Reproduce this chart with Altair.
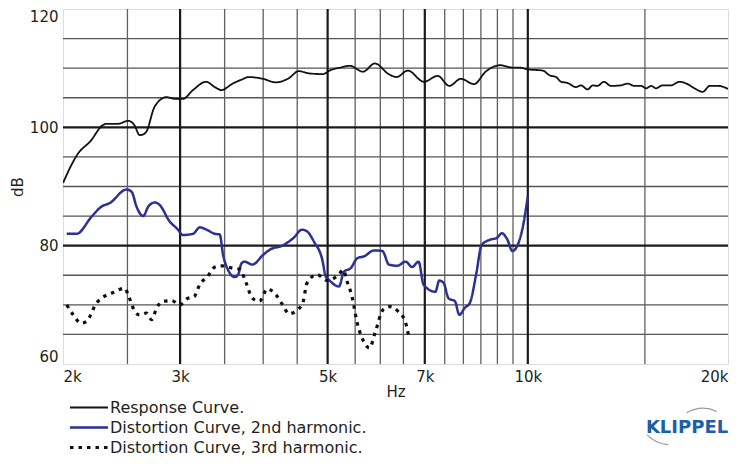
import altair as alt
import pandas as pd

# ---- data ----
resp_f = [2000, 2108, 2197, 2298, 2326, 2420, 2506, 2560, 2608, 2640, 2670, 2747, 2861, 2950, 3029,
          3137, 3282, 3384, 3461, 3600, 3700, 3810, 3996, 4180, 4370, 4524, 4700, 4920, 5055, 5225,
          5400, 5650, 5890, 6175, 6350, 6600, 6978, 7320, 7620, 7930, 8300, 8640, 9090, 9480, 9700,
          10000, 10530, 10780, 11030, 11220, 11480, 11810, 12020, 12300, 12520, 12720, 13020, 13330,
          13800, 14130, 14460, 14800, 15060, 15330, 15590, 15950, 16420, 16900, 17390, 17800, 18330,
          18770, 19350, 20000]
resp_db = [90.6, 95.6, 97.6, 100.4, 100.6, 100.6, 101.1, 100.4, 98.7, 98.8, 99.3, 103.5, 105.1, 104.8, 104.8,
           106.3, 107.7, 106.8, 106.3, 107.4, 108.0, 108.5, 108.2, 107.6, 108.3, 109.5, 109.1, 109.0, 109.7, 110.1,
           110.4, 109.4, 110.8, 109.0, 108.5, 109.6, 107.7, 108.7, 107.0, 108.2, 107.3, 109.4, 110.5, 110.1, 110.1,
           109.8, 109.6, 108.8, 108.5, 107.7, 107.5, 106.8, 107.1, 106.4, 107.1, 107.0, 107.7, 107.0,
           107.1, 107.4, 107.0, 107.0, 106.6, 107.0, 106.6, 107.1, 107.1, 107.7, 107.3, 106.6, 106.0,
           107.0, 107.0, 106.5]

h2_f = [2026, 2096, 2208, 2285, 2352, 2492, 2537, 2580, 2640, 2687, 2748, 2794, 2893, 2973, 3028,
        3137, 3212, 3288, 3384, 3441, 3482, 3542, 3626, 3668, 3710, 3750, 3854, 3996, 4091, 4290,
        4442, 4577, 4658, 4767, 4909, 4967, 5024, 5200, 5290, 5416, 5544, 5674, 5873, 6043, 6183,
        6364, 6548, 6700, 6852, 6970, 7260, 7360, 7470, 7600, 7770, 7890, 8040, 8180, 8370, 8520,
        8770, 8980, 9140, 9310, 9480, 9600, 9830, 10000]
h2_db = [82.0, 82.0, 84.9, 86.6, 87.2, 89.5, 89.1, 86.6, 85.0, 86.6, 87.3, 86.9, 84.1, 82.8, 81.8,
         82.0, 83.1, 82.7, 82.0, 81.9, 78.4, 75.9, 74.7, 75.1, 77.0, 77.3, 76.8, 78.4, 79.3, 80.1,
         81.3, 82.7, 82.4, 80.7, 77.6, 74.8, 74.2, 73.1, 75.6, 76.2, 77.9, 78.2, 79.2, 79.1, 76.8,
         76.6, 77.3, 76.4, 77.3, 73.4, 72.2, 74.1, 73.7, 71.1, 70.6, 68.3, 69.5, 70.3, 75.4, 80.1,
         81.0, 81.3, 82.1, 81.1, 79.1, 79.6, 83.2, 88.3]

h3_f = [2026, 2072, 2130, 2170, 2246, 2285, 2380, 2477, 2506, 2564, 2608, 2670, 2718, 2767, 2830,
        2915, 3000, 3070, 3150, 3210, 3300, 3384, 3462, 3598, 3690, 3770, 3854, 3947, 4060, 4180,
        4290, 4370, 4577, 4658, 4820, 4990, 5160, 5290, 5330, 5440, 5540, 5620, 5780, 5890, 6060,
        6200, 6380, 6540, 6620]
h3_db = [70.0, 68.3, 66.9, 67.2, 70.3, 71.1, 72.1, 72.8, 71.7, 68.9, 68.3, 68.6, 67.5, 69.5, 70.6,
         70.7, 70.0, 71.0, 71.4, 73.4, 74.8, 76.4, 76.6, 76.2, 76.0, 73.7, 71.1, 70.6, 72.7, 71.7,
         69.8, 68.5, 70.0, 73.7, 75.1, 74.1, 74.8, 75.9, 74.5, 71.4, 66.9, 64.7, 62.7, 65.2, 69.2,
         69.7, 68.9, 67.2, 64.7]

series_names = ["Response Curve.", "Distortion Curve, 2nd harmonic.", "Distortion Curve, 3rd harmonic."]

x_ticks = [2000, 3000, 5000, 7000, 10000, 20000]
y_ticks = [60, 80, 100, 120]
grid_f_thin = [2500, 3500, 4000, 4500, 5500, 6000, 6500, 7500, 8000, 8500, 9000, 9500, 15000]
grid_f_thick = [3000, 5000, 7000, 10000]
grid_db_thin = [65, 70, 75, 85, 90, 95, 105, 110, 115]
grid_db_thick = [80, 100]

# ---- tables ----
frames = []
for name, fs, dbs in zip(series_names, [resp_f, h2_f, h3_f], [resp_db, h2_db, h3_db]):
    frames.append(pd.DataFrame({"f": fs, "db": dbs, "series": name}))
curves = pd.concat(frames, ignore_index=True)
curves["order"] = curves["series"].map({n: i for i, n in enumerate(series_names)})

FONT = "DejaVu Sans"
TXT = "#231f20"

x_scale = alt.Scale(type="log", domain=[2000, 20000], nice=False)
y_scale = alt.Scale(domain=[60, 120], nice=False, zero=False)

x_axis = alt.Axis(values=x_ticks, labelExpr="datum.value / 1000 + 'k'", grid=False, ticks=False,
                  domain=False, labelFlush=True, labelFontSize=15, labelFont=FONT, labelColor=TXT,
                  labelPadding=5, title="Hz", titleFontSize=15, titleFont=FONT, titleColor=TXT,
                  titleFontWeight="normal", titlePadding=0)
y_axis = alt.Axis(values=y_ticks, grid=False, ticks=False, domain=False, labelFontSize=15,
                  labelFont=FONT, labelColor=TXT, labelPadding=5, labelFlush=True,
                  title="dB", titleFontSize=15,
                  titleFont=FONT, titleColor=TXT, titleFontWeight="normal", titlePadding=4)

vthin = alt.Chart(pd.DataFrame({"f": grid_f_thin})).mark_rule(color="#606060", strokeWidth=1.3).encode(
    x=alt.X("f:Q", scale=x_scale, axis=x_axis))
vthick = alt.Chart(pd.DataFrame({"f": grid_f_thick})).mark_rule(color="#1a1a1a", strokeWidth=2.2).encode(
    x=alt.X("f:Q", scale=x_scale, axis=x_axis))
hthin = alt.Chart(pd.DataFrame({"db": grid_db_thin})).mark_rule(color="#555555", strokeWidth=1.3).encode(
    y=alt.Y("db:Q", scale=y_scale, axis=y_axis))
hthick = alt.Chart(pd.DataFrame({"db": grid_db_thick})).mark_rule(color="#1a1a1a", strokeWidth=2.2).encode(
    y=alt.Y("db:Q", scale=y_scale, axis=y_axis))

legend = alt.Legend(title=None, orient="none", legendX=5, legendY=389, direction="vertical",
                    symbolType="stroke", symbolSize=1444, clipHeight=19, labelFontSize=16,
                    labelFont=FONT, labelColor=TXT, labelOffset=0, labelLimit=500,
                    rowPadding=1, padding=0)

lines = alt.Chart(curves).mark_line(interpolate="monotone", clip=True).encode(
    x=alt.X("f:Q", scale=x_scale, axis=x_axis),
    y=alt.Y("db:Q", scale=y_scale, axis=y_axis),
    color=alt.Color("series:N", scale=alt.Scale(domain=series_names, range=["#111111", "#2b3190", "#111111"]),
                    legend=legend),
    strokeDash=alt.StrokeDash("series:N", scale=alt.Scale(domain=series_names, range=[[1, 0], [1, 0], [3.5, 5]]),
                              legend=legend),
    strokeWidth=alt.StrokeWidth("series:N", scale=alt.Scale(domain=series_names, range=[1.8, 3.2, 2.0]),
                                legend=legend),
    order=alt.Order("order:Q"),
)

logo_df = pd.DataFrame({"t": ["KLIPPEL"]})
logo = alt.Chart(logo_df).mark_text(font="DejaVu Sans", fontWeight="bold", fontSize=18, color="#1a5fa8",
                                    align="center", baseline="middle").encode(
    text="t:N", x=alt.value(624), y=alt.value(419))
arc_up = alt.Chart(logo_df).mark_arc(innerRadius=32, outerRadius=33.2, theta=5.76, theta2=6.72,
                                     color="#9a9a9a").encode(x=alt.value(640), y=alt.value(432))
arc_dn = alt.Chart(logo_df).mark_arc(innerRadius=31, outerRadius=32.2, theta=3.2, theta2=3.95,
                                     color="#9a9a9a").encode(x=alt.value(607), y=alt.value(404))

chart = alt.layer(hthin, vthin, hthick, vthick, lines, arc_up, arc_dn, logo).properties(
    width=665, height=355,
    autosize=alt.AutoSizeParams(type="none"),
    padding={"left": 55, "top": 1, "right": 13, "bottom": 94},
).configure_view(stroke="#1a1a1a", strokeWidth=2.6).configure(background="white")

chart.save("out.html", embed_options={"renderer": "svg", "actions": False})
